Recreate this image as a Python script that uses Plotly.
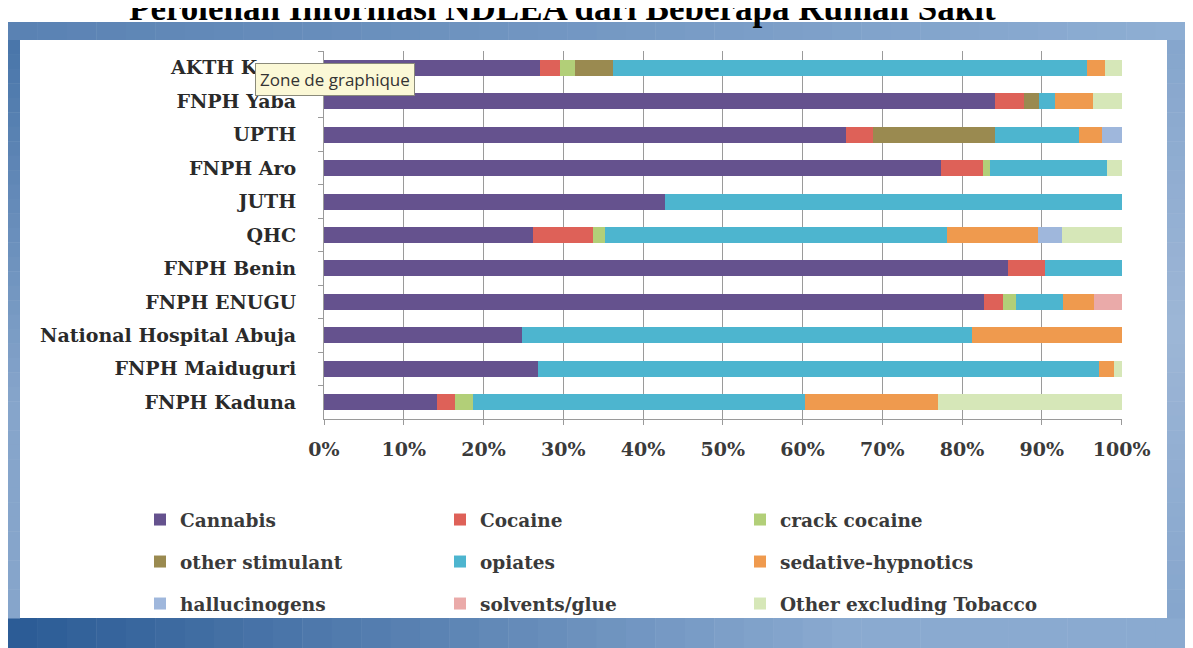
import plotly.graph_objects as go

hospitals = ["AKTH Kano", "FNPH Yaba", "UPTH", "FNPH Aro", "JUTH", "QHC",
             "FNPH Benin", "FNPH ENUGU", "National Hospital Abuja",
             "FNPH Maiduguri", "FNPH Kaduna"]

cannabis        = [27.1, 84.1, 65.5, 77.4, 42.7, 26.2, 85.7, 82.8, 24.8, 26.8, 14.2]
cocaine         = [2.5, 3.7, 3.3, 5.2, 0.0, 7.5, 4.7, 2.3, 0.0, 0.0, 2.2]
crack_cocaine   = [1.9, 0.0, 0.0, 0.9, 0.0, 1.5, 0.0, 1.7, 0.0, 0.0, 2.3]
other_stimulant = [4.7, 1.9, 15.3, 0.0, 0.0, 0.0, 0.0, 0.0, 0.0, 0.0, 0.0]
opiates         = [59.4, 1.9, 10.6, 14.7, 57.3, 42.9, 9.6, 5.8, 56.4, 70.4, 41.6]
sedative        = [2.3, 4.8, 2.9, 0.0, 0.0, 11.4, 0.0, 4.0, 18.8, 1.9, 16.7]
hallucinogens   = [0.0, 0.0, 2.4, 0.0, 0.0, 3.0, 0.0, 0.0, 0.0, 0.0, 0.0]
solvents        = [0.0, 0.0, 0.0, 0.0, 0.0, 0.0, 0.0, 3.4, 0.0, 0.0, 0.0]
other_excl      = [2.1, 3.6, 0.0, 1.8, 0.0, 7.5, 0.0, 0.0, 0.0, 0.9, 23.0]

series_names = ["Cannabis", "Cocaine", "crack cocaine", "other stimulant", "opiates",
                "sedative-hypnotics", "hallucinogens", "solvents/glue",
                "Other excluding Tobacco"]
series_values = [cannabis, cocaine, crack_cocaine, other_stimulant, opiates,
                 sedative, hallucinogens, solvents, other_excl]
colors = ["#65528e", "#de6158", "#b2cf78", "#9a8a50", "#4db5cf",
          "#ef9a4e", "#9fb7dc", "#eaaaa9", "#d6e7b8"]
legend_rows = ["legend", "legend", "legend", "legend2", "legend2", "legend2",
               "legend3", "legend3", "legend3"]

OFF = 8  # page body margin
W, H = 1193 - OFF, 648 - OFF
L, R, T, B = 324 - OFF, 1122 - OFF, 51 - OFF, 419 - OFF


def px(x):
    """page pixel x -> paper x"""
    return (x - OFF - L) / (R - L)


def py(y):
    """page pixel y -> paper y"""
    return (B - (y - OFF)) / (B - T)


def hexrgb(h):
    h = h.lstrip("#")
    return tuple(int(h[i:i + 2], 16) for i in (0, 2, 4))


def mix(c1, c2, t):
    a, b = hexrgb(c1), hexrgb(c2)
    return "rgb(%d,%d,%d)" % tuple(round(a[i] + (b[i] - a[i]) * t) for i in range(3))


FONT = "DejaVu Serif"

fig = go.Figure()
for name, vals, col, lg in zip(series_names, series_values, colors, legend_rows):
    fig.add_trace(go.Bar(
        y=hospitals, x=vals, name=name, orientation="h",
        marker=dict(color=col, line=dict(width=0)),
        legend=lg,
    ))

shapes = []


def rect(x0, x1, y0, y1, color):
    shapes.append(dict(type="rect", xref="paper", yref="paper", layer="below",
                       x0=px(x0), x1=px(x1), y0=py(y0), y1=py(y1),
                       fillcolor=color, line=dict(width=0)))


# blue frame, gradients approximated with strips
N = 40
for i in range(N):
    xa = 8 + (1185 - 8) * i / N
    xb = 8 + (1185 - 8) * (i + 1) / N + 0.5
    rect(xa, xb, 22, 40, mix("#5a82b3", "#8eaed3", i / (N - 1)))
    rect(xa, xb, 618, 648, mix("#2c5c96", "#8aaad0", min(1, i / (N * 0.7))))
for i in range(N):
    ya = 40 + (618 - 40) * i / N
    yb = 40 + (618 - 40) * (i + 1) / N + 0.5
    t = i / (N - 1)
    rect(8, 20, ya, yb, mix("#4a76aa", "#86a5cb", min(1, t * 1.6)))
    rect(1167, 1185, ya, yb, mix("#86a6cd", "#9db6d6", 1 - abs(t - 0.5) * 2))
rect(20, 1167, 40, 618, "#ffffff")

annotations = [
    dict(text="<b>Perolehan Informasi NDLEA dari Beberapa Rumah Sakit</b>",
         xref="paper", yref="paper", x=px(562), y=py(30),
         xanchor="center", yanchor="bottom", showarrow=False,
         font=dict(family="Liberation Serif", size=35, color="#000000")),
    dict(text="Zone de graphique", xref="paper", yref="paper",
         x=px(255), y=py(80), xanchor="left", yanchor="middle", showarrow=False,
         font=dict(family="Open Sans", size=17, color="#333333"),
         bgcolor="#fbf8d6", bordercolor="#8a8a7a", borderwidth=1, borderpad=4),
]

legend_common = dict(orientation="h", entrywidth=255, entrywidthmode="pixels",
                     xanchor="left", yanchor="middle", bgcolor="rgba(0,0,0,0)",
                     font=dict(family=FONT, size=18.5, color="#3a3a3a", weight="bold"),
                     itemclick=False, traceorder="normal")

fig.update_layout(
    width=W, height=H,
    margin=dict(l=L, r=W - R, t=T, b=H - B, autoexpand=False),
    paper_bgcolor="#ffffff", plot_bgcolor="rgba(0,0,0,0)",
    barmode="stack", bargap=0.52,
    showlegend=True,
    legend=dict(x=px(140), y=py(520), **legend_common),
    legend2=dict(x=px(140), y=py(562), **legend_common),
    legend3=dict(x=px(140), y=py(604), **legend_common),
    shapes=shapes, annotations=annotations,
    xaxis=dict(range=[0, 100.05], dtick=10, tick0=0, ticksuffix="%",
               showgrid=True, gridcolor="#9a9a9a", gridwidth=1,
               showline=True, linecolor="#9a9a9a", linewidth=1,
               ticks="outside", ticklen=5, tickcolor="#9a9a9a",
               ticklabelstandoff=8, zeroline=False, fixedrange=True,
               tickfont=dict(family=FONT, size=19, color="#3a3a3a", weight="bold")),
    yaxis=dict(categoryorder="array", categoryarray=hospitals,
               autorange="reversed", showgrid=False,
               showline=True, linecolor="#9a9a9a", linewidth=1,
               ticks="outside", ticklen=5, tickcolor="#9a9a9a",
               tickson="boundaries", ticklabelstandoff=23, fixedrange=True,
               tickfont=dict(family=FONT, size=19, color="#2a2a2a", weight="bold")),
)

fig.write_html("out.html")
